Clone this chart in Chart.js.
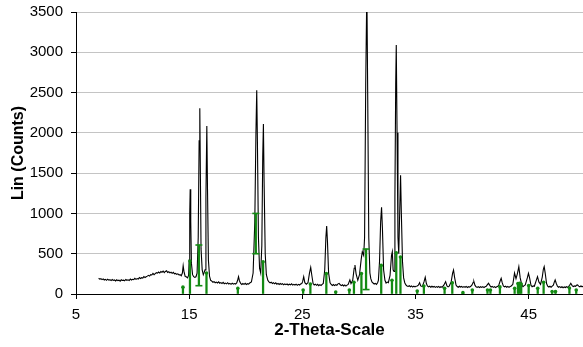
<!DOCTYPE html>
<html>
<head>
<meta charset="utf-8">
<script src="https://cdn.jsdelivr.net/npm/chart.js@4.4.1/dist/chart.umd.min.js"></script>
<style>
  body { margin: 0; background: #fff; }
  #wrap { width: 583px; height: 347px; }
</style>
</head>
<body>
<div id="wrap"><canvas id="myChart" width="583" height="347"></canvas></div>
<script>
// measured scan: [2-theta, counts]
const scan = [
  [7.0,195],[7.1,184],[7.2,190],[7.3,178],[7.4,188],[7.5,174],[7.6,182],[7.7,170],[7.8,184],[7.9,172],
  [8.0,178],[8.1,166],[8.2,180],[8.3,168],[8.4,174],[8.5,162],[8.6,176],[8.7,166],[8.8,172],[8.9,160],
  [9.0,176],[9.1,168],[9.2,172],[9.3,164],[9.4,180],[9.5,170],[9.6,176],[9.7,168],[9.8,186],[9.9,174],
  [10.0,182],[10.1,178],[10.2,194],[10.3,182],[10.4,192],[10.5,186],[10.6,204],[10.7,192],[10.8,202],[10.9,198],
  [11.0,216],[11.1,204],[11.2,214],[11.3,222],[11.4,232],[11.5,222],[11.6,240],[11.7,236],[11.8,256],[11.9,240],
  [12.0,252],[12.1,264],[12.2,258],[12.3,272],[12.4,260],[12.5,280],[12.6,270],[12.7,284],[12.8,266],[12.9,280],
  [13.0,288],[13.1,268],[13.2,276],[13.3,262],[13.4,270],[13.5,256],[13.6,268],[13.7,250],[13.8,256],[13.9,244],
  [14.0,250],[14.1,236],[14.2,240],[14.3,226],[14.4,260],[14.47,350],
  [14.55,270],[14.65,218],[14.75,214],[14.85,200],[14.95,230],[15.0,420],[15.05,1000],[15.09,1300],[15.14,900],[15.2,380],
  [15.3,240],[15.4,215],[15.5,206],[15.6,214],[15.7,260],[15.8,700],[15.88,1900],[15.94,2305],[15.99,1500],[16.05,560],
  [16.15,300],[16.25,240],[16.32,265],[16.4,300],[16.48,1200],[16.56,2085],[16.62,1300],[16.7,420],[16.8,220],[16.9,170],
  [17.0,160],[17.1,146],[17.2,154],[17.3,140],[17.4,148],[17.5,136],[17.6,150],[17.7,134],[17.8,142],[17.9,130],
  [18.0,144],[18.1,128],[18.2,136],[18.3,126],[18.4,140],[18.5,124],[18.6,132],[18.7,120],[18.8,134],[18.9,122],
  [19.0,130],[19.1,124],[19.2,138],[19.28,170],[19.36,215],[19.44,165],[19.55,130],[19.65,118],[19.75,130],[19.85,120],
  [19.95,132],[20.05,118],[20.15,128],[20.25,122],[20.35,136],[20.5,150],[20.65,260],[20.8,900],[20.9,2000],[20.97,2530],
  [21.03,1900],[21.12,700],[21.22,320],[21.32,260],[21.42,600],
  [21.5,1700],[21.56,2110],[21.62,1400],[21.72,500],[21.82,240],[21.95,170],[22.05,150],[22.15,138],[22.25,146],[22.35,130],
  [22.45,140],[22.55,126],[22.65,138],[22.75,122],[22.85,132],[22.95,118],[23.05,130],[23.15,120],[23.25,128],[23.35,114],
  [23.45,126],[23.55,116],[23.65,124],[23.75,112],[23.85,122],[23.95,114],[24.05,126],[24.15,110],[24.25,120],[24.35,112],
  [24.45,122],[24.55,108],[24.65,120],[24.75,112],[24.85,124],[24.95,130],
  [25.02,150],[25.12,215],[25.22,140],[25.35,122],[25.5,140],[25.63,260],[25.74,330],[25.84,230],[25.95,130],
  [26.05,112],[26.15,122],[26.25,108],[26.35,120],[26.45,104],[26.55,116],[26.65,106],[26.75,120],[26.85,130],
  [26.98,300],[27.08,700],[27.15,845],[27.22,650],[27.32,260],
  [27.45,140],[27.55,118],[27.65,106],[27.75,118],[27.85,104],[27.95,116],[28.05,108],[28.15,126],[28.25,132],[28.35,114],
  [28.45,104],[28.55,114],[28.65,100],[28.75,112],[28.85,98],[28.95,110],[29.05,118],
  [29.2,175],[29.3,130],[29.45,170],[29.58,320],[29.65,360],[29.75,250],[29.9,170],[30.05,240],[30.2,430],[30.3,525],
  [30.42,480],[30.5,700],[30.6,2600],[30.7,3800],[30.78,2400],[30.87,700],[30.97,260],[31.05,190],[31.15,150],[31.25,136],
  [31.35,124],[31.45,132],[31.55,120],[31.65,140],[31.72,170],
  [31.82,400],[31.92,900],[32.0,1075],[32.08,800],[32.18,300],[32.3,170],[32.4,136],[32.5,148],[32.6,140],
  [32.75,230],[32.88,480],[32.95,525],[33.02,300],[33.1,280],[33.18,1200],[33.25,2600],[33.3,3090],[33.37,2000],[33.45,700],
  [33.52,500],[33.6,1000],[33.68,1475],[33.75,1000],[33.85,400],[33.95,200],[34.05,140],[34.15,112],[34.25,100],[34.35,94],
  [34.45,102],[34.55,90],[34.65,100],[34.75,86],[34.85,98],[34.95,88],[35.05,96],[35.15,100],
  [35.25,110],[35.36,140],[35.46,100],[35.6,92],[35.75,150],[35.86,207],[35.96,130],[36.05,100],
  [36.15,88],[36.25,98],[36.35,84],[36.45,96],[36.55,86],[36.65,94],[36.75,82],[36.85,92],[36.95,84],[37.05,94],
  [37.15,80],[37.25,90],[37.35,84],[37.5,110],[37.66,153],[37.78,100],[37.88,88],[37.98,98],
  [38.15,150],[38.28,260],[38.36,298],[38.45,210],[38.58,110],[38.68,92],[38.78,84],[38.88,96],[38.98,86],
  [39.08,94],[39.18,82],[39.28,92],[39.38,84],[39.48,94],[39.58,80],[39.68,90],[39.78,84],[39.88,96],
  [39.98,110],[40.1,145],[40.16,153],[40.25,110],[40.35,90],[40.45,82],[40.55,92],[40.65,80],[40.75,90],[40.85,82],
  [40.95,92],[41.05,80],[41.15,90],[41.25,96],
  [41.32,110],[41.45,133],[41.58,104],[41.68,86],[41.78,94],[41.88,82],[41.98,92],[42.08,80],[42.18,90],[42.28,96],
  [42.38,118],[42.5,170],[42.57,195],[42.66,140],[42.76,100],[42.86,88],[42.96,96],[43.06,84],[43.16,94],[43.26,82],
  [43.36,92],[43.46,100],
  [43.6,120],[43.75,260],[43.88,190],[44.0,250],[44.13,340],[44.25,200],
  [44.4,110],[44.5,92],[44.6,104],[44.7,112],[44.88,200],[44.98,256],[45.08,200],[45.2,110],[45.3,90],[45.4,100],
  [45.5,96],[45.65,160],
  [45.78,215],[45.9,150],[46.05,120],[46.2,210],[46.3,310],[46.37,340],[46.46,260],[46.58,130],[46.68,96],[46.78,86],
  [46.88,96],[46.98,84],[47.08,98],[47.18,110],[47.27,150],[47.34,174],[47.44,130],[47.54,98],[47.64,84],[47.74,92],
  [47.84,80],[47.94,90],[48.04,78],[48.14,88],[48.24,80],[48.34,90],[48.44,82],[48.54,94],[48.62,108],
  [48.72,133],[48.84,104],[48.94,92],[49.04,100],[49.14,94],[49.22,108],[49.32,112],[49.42,98],[49.52,90],[49.62,100],
  [49.72,90],[49.82,98]
];

// reference pattern sticks
const refAngles = [14.45, 15.07, 15.86, 16.53, 19.3, 20.89, 21.53, 25.07, 25.71, 27.12,
                   27.95, 29.15, 29.56, 30.22, 30.63, 31.97, 32.92, 33.3, 33.67, 35.15,
                   35.74, 37.57, 38.25, 39.19, 40.02, 41.36, 41.62, 42.46, 43.76, 44.05,
                   44.2, 44.34, 45.0, 45.8, 46.32, 47.07, 47.37, 48.6, 49.2];
const refTops   = [85, 410, 608, 260, 70, 1000, 400, 50, 125, 255,
                   25, 50, 145, 255, 558, 355, 170, 510, 460, 37,
                   100, 70, 140, 17, 50, 50, 50, 88, 70, 130,
                   133, 125, 105, 70, 145, 30, 30, 75, 50];
const refBases  = [0, 0, 103, 0, 0, 500, 0, 0, 0, 0,
                   0, 0, 0, 0, 55, 0, 0, 0, 0, 0,
                   0, 0, 0, 0, 0, 0, 0, 0, 0, 0,
                   0, 0, 0, 0, 0, 0, 0, 0, 0];

const xTicks = [5, 15, 25, 35, 45];
const yTicks = [0, 500, 1000, 1500, 2000, 2500, 3000, 3500];

const green = '#138a13';
const font = 'Liberation Sans, Arial, sans-serif';

const sticks = refAngles.map((a, i) => ({ x: a, y: [refBases[i], refTops[i]] }));
const dots = refAngles.map((a, i) => ({ x: a, y: refTops[i] })).filter((p, i) => refBases[i] === 0);
const caps = [];
refAngles.forEach((a, i) => {
    if (refBases[i] > 0) {
        caps.push({ x: a, y: refBases[i] });
        caps.push({ x: a, y: refTops[i] });
    }
});

const ctx = document.getElementById('myChart').getContext('2d');
new Chart(ctx, {
    data: {
        datasets: [
            {
                type: 'line',
                data: scan.map(p => ({ x: p[0], y: p[1] })),
                borderColor: '#000',
                borderWidth: 1.1,
                pointRadius: 0,
                tension: 0,
                order: 3
            },
            {
                type: 'bar',
                data: sticks,
                backgroundColor: green,
                barThickness: 1.6,
                grouped: false,
                order: 2
            },
            {
                type: 'scatter',
                data: dots,
                pointStyle: 'circle',
                pointRadius: 1.8,
                backgroundColor: green,
                borderColor: green,
                borderWidth: 0,
                order: 1
            },
            {
                type: 'scatter',
                data: caps,
                pointStyle: 'line',
                pointRadius: 3.5,
                borderColor: green,
                borderWidth: 1.6,
                order: 1
            }
        ]
    },
    options: {
        responsive: false,
        animation: false,
        devicePixelRatio: 1,
        layout: { autoPadding: false, padding: { top: 12, right: 0, left: 0, bottom: 0 } },
        plugins: { legend: { display: false }, tooltip: { enabled: false } },
        scales: {
            x: {
                type: 'linear',
                min: 5,
                max: 49.8,
                offset: false,
                afterBuildTicks: s => { s.ticks = xTicks.map(v => ({ value: v })); },
                afterFit: s => { s.height = 53; s.paddingLeft = 0; s.paddingRight = 0; },
                border: { color: '#000', width: 1 },
                grid: { drawOnChartArea: false, tickLength: 5, color: '#000', offset: false },
                ticks: { color: '#000', font: { family: font, size: 15 }, padding: 7, maxRotation: 0 },
                title: {
                    display: true, text: '2-Theta-Scale', color: '#000',
                    font: { family: font, size: 17, weight: 'bold' },
                    padding: { top: 0, bottom: 6 }
                }
            },
            y: {
                min: 0,
                max: 3500,
                afterBuildTicks: s => { s.ticks = yTicks.map(v => ({ value: v })); },
                afterFit: s => { s.width = 76; s.paddingTop = 0; s.paddingBottom = 0; },
                border: { color: '#000', width: 1 },
                grid: { color: '#c4c4c4', tickColor: '#000', tickLength: 5 },
                ticks: { color: '#000', font: { family: font, size: 15 }, padding: 8, callback: v => String(v) },
                title: {
                    display: true, text: 'Lin (Counts)', color: '#000',
                    font: { family: font, size: 16, weight: 'bold' },
                    padding: { top: 9, bottom: 0 }
                }
            }
        }
    }
});
</script>
</body>
</html>
